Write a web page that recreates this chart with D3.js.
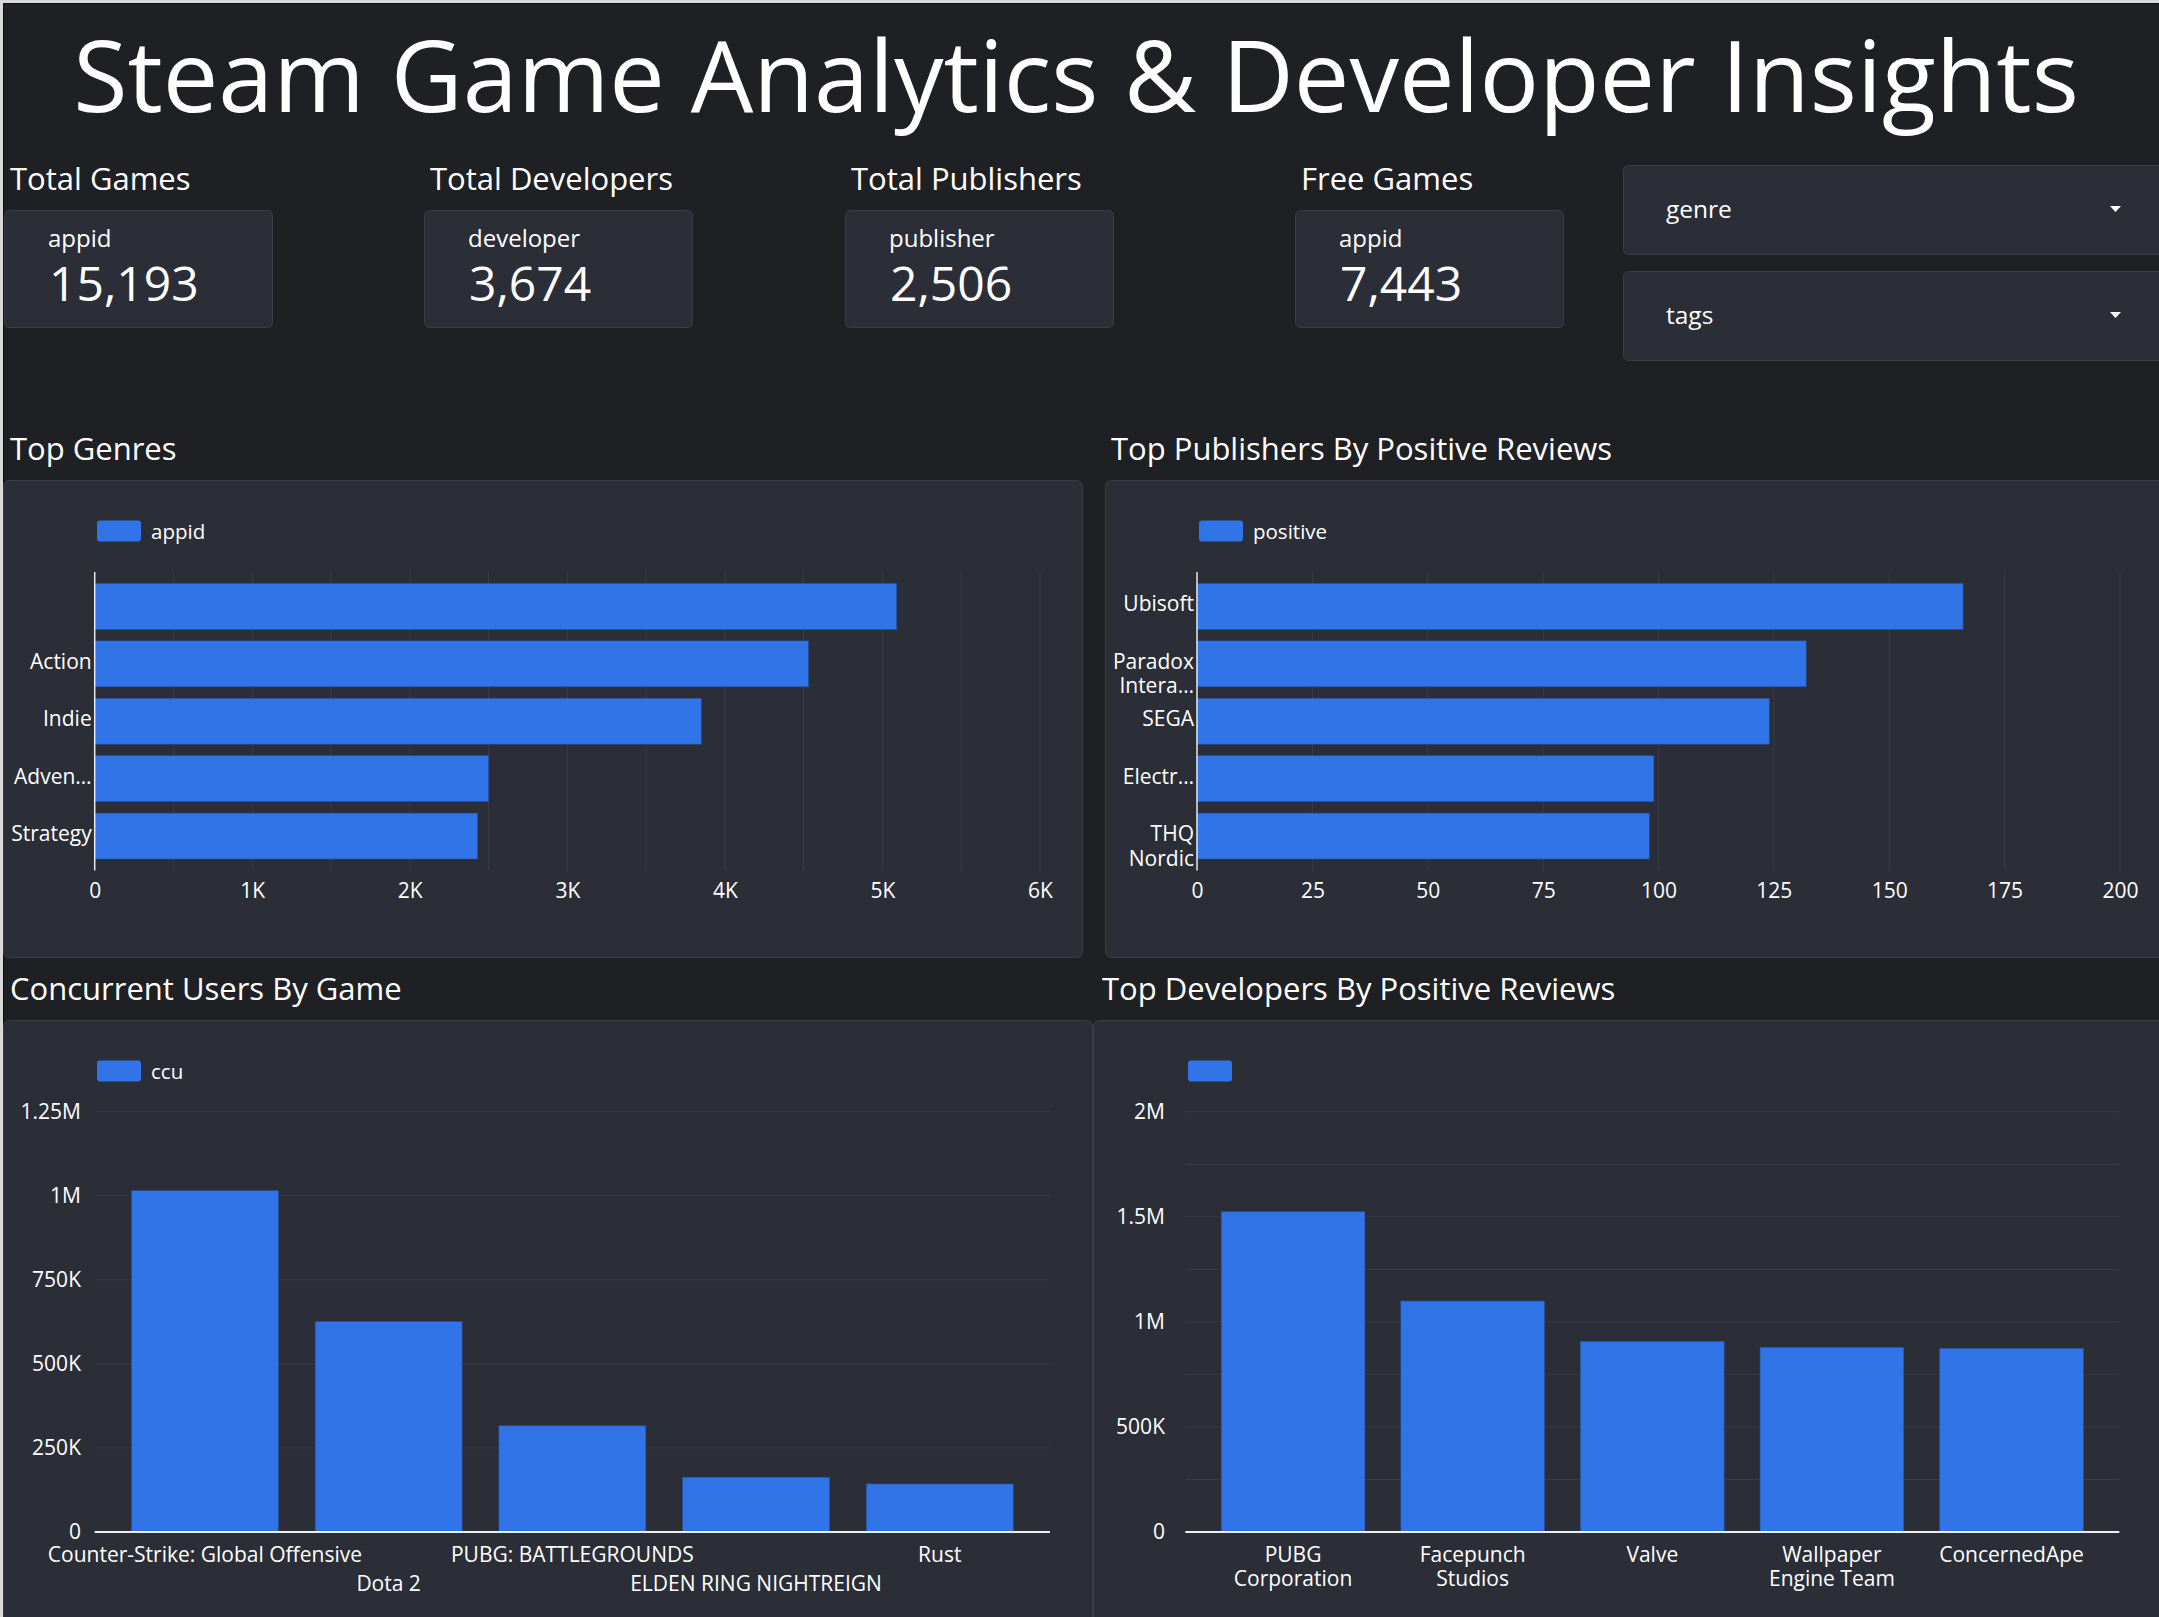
<!DOCTYPE html>
<html>
<head>
<meta charset="utf-8">
<script src="https://cdn.jsdelivr.net/npm/d3@7"></script>
<style>
  html, body { margin: 0; padding: 0; background: #d9d9d9; overflow: hidden; }
  svg { display: block; font-family: "Open Sans", "Noto Sans", sans-serif; }
</style>
</head>
<body>
<svg id="chart" width="2159" height="1617"></svg>
<script>
// ---------------- DATA ----------------
const pageTitle = "Steam Game Analytics & Developer Insights";

const kpiTitles = ["Total Games", "Total Developers", "Total Publishers", "Free Games"];
const kpiFields = ["appid", "developer", "publisher", "appid"];
const kpiValues = [15193, 3674, 2506, 7443];

const filterNames = ["genre", "tags"];

const genres = ["", "Action", "Indie", "Adventure", "Strategy"];
const genreTickLabels = [[""], ["Action"], ["Indie"], ["Adven…"], ["Strategy"]];
const genreCounts = [5090, 4530, 3850, 2500, 2430];
const genreTicks = [0, 1000, 2000, 3000, 4000, 5000, 6000];
const genreGrid = [500, 1000, 1500, 2000, 2500, 3000, 3500, 4000, 4500, 5000, 5500, 6000];

const publishers = ["Ubisoft", "Paradox Interactive", "SEGA", "Electronic Arts", "THQ Nordic"];
const publisherTickLabels = [["Ubisoft"], ["Paradox", "Intera…"], ["SEGA"], ["Electr…"], ["THQ", "Nordic"]];
const publisherPositive = [166, 132, 124, 99, 98];
const publisherTicks = [0, 25, 50, 75, 100, 125, 150, 175, 200];

const games = ["Counter-Strike: Global Offensive", "Dota 2", "PUBG: BATTLEGROUNDS", "ELDEN RING NIGHTREIGN", "Rust"];
const gameCcu = [1015000, 626000, 316000, 163000, 143000];
const ccuTicks = [0, 250000, 500000, 750000, 1000000, 1250000];

const developers = ["PUBG Corporation", "Facepunch Studios", "Valve", "Wallpaper Engine Team", "ConcernedApe"];
const developerTickLabels = [["PUBG", "Corporation"], ["Facepunch", "Studios"], ["Valve"], ["Wallpaper", "Engine Team"], ["ConcernedApe"]];
const developerPositive = [1524000, 1099000, 907000, 879000, 874000];
const developerTicks = [0, 500000, 1000000, 1500000, 2000000];
const developerGrid = [250000, 500000, 750000, 1000000, 1250000, 1500000, 1750000, 2000000];

// ---------------- STYLE ----------------
const BG = "#1f2024", PANEL = "#2b2e36", BORDER = "#3b3e46", GRID = "#3a3d45";
const BAR = "#3174e8", TEXT = "#ffffff";
const FS = 21;

const fmt = v => v === 0 ? "0" : v >= 1e6 ? (+(v / 1e6).toFixed(2)) + "M" : v >= 1e3 ? (+(v / 1e3).toFixed(2)) + "K" : String(v);

const svg = d3.select("#chart");

// page frame
svg.append("rect").attr("x", 3).attr("y", 3).attr("width", 2200).attr("height", 1700).attr("fill", "#111");
svg.append("rect").attr("x", 4).attr("y", 4).attr("width", 2200).attr("height", 1700).attr("fill", BG);

// title
svg.append("text").attr("x", 1076).attr("y", 112).attr("text-anchor", "middle")
  .attr("fill", TEXT).attr("font-size", 99).text(pageTitle);

// KPI cards
const kpiX = [4, 424, 845, 1295];
kpiTitles.forEach((t, i) => {
  const x = kpiX[i];
  svg.append("text").attr("x", x + 6).attr("y", 190).attr("fill", TEXT).attr("font-size", 31).text(t);
  svg.append("rect").attr("x", x + 0.5).attr("y", 210.5).attr("width", 268).attr("height", 117).attr("rx", 5)
    .attr("fill", PANEL).attr("stroke", BORDER);
  svg.append("text").attr("x", x + 44).attr("y", 247).attr("fill", TEXT).attr("font-size", 24).text(kpiFields[i]);
  svg.append("text").attr("x", x + 45).attr("y", 301).attr("fill", TEXT).attr("font-size", 48).text(d3.format(",")(kpiValues[i]));
});

// filter controls
const filterY = [165, 271];
filterNames.forEach((n, i) => {
  const y = filterY[i];
  svg.append("rect").attr("x", 1623.5).attr("y", y + 0.5).attr("width", 600).attr("height", 89).attr("rx", 5)
    .attr("fill", PANEL).attr("stroke", BORDER);
  svg.append("text").attr("x", 1666).attr("y", y + 53).attr("fill", TEXT).attr("font-size", 24.5).text(n);
  svg.append("path").attr("d", `M${2110},${y + 41} L${2121},${y + 41} L${2115.5},${y + 47} Z`).attr("fill", TEXT);
});

// section titles & panels
const sections = [
  { t: "Top Genres", x: 10, y: 460, px: 3.5, py: 480.5, pw: 1079, ph: 477 },
  { t: "Top Publishers By Positive Reviews", x: 1111, y: 460, px: 1105.5, py: 480.5, pw: 1100, ph: 477 },
  { t: "Concurrent Users By Game", x: 10, y: 1000, px: 3.5, py: 1020.5, pw: 1089, ph: 700 },
  { t: "Top Developers By Positive Reviews", x: 1102, y: 1000, px: 1093.5, py: 1020.5, pw: 1100, ph: 700 }
];
sections.forEach(s => {
  svg.append("rect").attr("x", s.px).attr("y", s.py).attr("width", s.pw).attr("height", s.ph).attr("rx", 6)
    .attr("fill", PANEL).attr("stroke", BORDER);
  svg.append("text").attr("x", s.x).attr("y", s.y).attr("fill", TEXT).attr("font-size", 31).text(s.t);
});

function legend(x, y, label) {
  svg.append("rect").attr("x", x).attr("y", y).attr("width", 44).attr("height", 21).attr("rx", 3).attr("fill", BAR);
  if (label) svg.append("text").attr("x", x + 54).attr("y", y + 10).attr("dominant-baseline", "central")
    .attr("fill", TEXT).attr("font-size", 20.5).text(label);
}

// ---------- horizontal bar chart ----------
function hbar(cfg) {
  const g = svg.append("g");
  const x = d3.scaleLinear().domain(cfg.domain).range([cfg.x0, cfg.x1]);
  const y = d3.scaleBand().domain(cfg.cats).range([572, 870.5]).paddingInner(0.2).paddingOuter(0.2);
  g.selectAll("line.grid").data(cfg.grid).join("line")
    .attr("x1", d => x(d)).attr("x2", d => x(d)).attr("y1", 572).attr("y2", 870.5)
    .attr("stroke", GRID).attr("stroke-width", 1);
  g.selectAll("rect.bar").data(cfg.values).join("rect")
    .attr("x", x(0)).attr("y", (d, i) => y(cfg.cats[i]))
    .attr("width", d => x(d) - x(0)).attr("height", y.bandwidth())
    .attr("fill", BAR).attr("stroke", "#25509e").attr("stroke-width", 0.6);
  g.append("line").attr("x1", x(0)).attr("x2", x(0)).attr("y1", 572).attr("y2", 870.5)
    .attr("stroke", "#e8e8e8").attr("stroke-width", 1.5);
  const ax = g.append("g").attr("transform", "translate(0,876)")
    .call(d3.axisBottom(x).tickValues(cfg.ticks).tickFormat(fmt).tickSize(0).tickPadding(0));
  ax.select(".domain").remove();
  ax.selectAll("text").attr("fill", TEXT).attr("font-size", FS).attr("font-family", "Open Sans")
    .attr("dy", "0.5em").attr("y", 11);
  cfg.cats.forEach((c, i) => {
    const lines = cfg.labels[i];
    const cy = y(c) + y.bandwidth() / 2 - 3;
    lines.forEach((ln, j) => {
      g.append("text").attr("x", x(0) - 3).attr("y", cy + j * 24.5).attr("text-anchor", "end")
        .attr("dominant-baseline", "central").attr("fill", TEXT).attr("font-size", FS).text(ln);
    });
  });
}

hbar({ cats: genres, labels: genreTickLabels, values: genreCounts, domain: [0, 6000], x0: 94.7, x1: 1040,
  ticks: genreTicks, grid: genreGrid });
legend(97, 520.5, "appid");

hbar({ cats: publishers, labels: publisherTickLabels, values: publisherPositive, domain: [0, 200], x0: 1197, x1: 2120,
  ticks: publisherTicks, grid: publisherTicks.slice(1) });
legend(1199, 520.5, "positive");

// ---------- vertical bar chart ----------
function vbar(cfg) {
  const g = svg.append("g");
  const x = d3.scaleBand().domain(cfg.cats).range([cfg.x0, cfg.x1]).paddingInner(0.2).paddingOuter(0.2);
  const y = d3.scaleLinear().domain(cfg.domain).range([1532, 1111.7]);
  g.selectAll("line.grid").data(cfg.grid).join("line")
    .attr("x1", cfg.x0).attr("x2", cfg.x1).attr("y1", d => y(d)).attr("y2", d => y(d))
    .attr("stroke", GRID).attr("stroke-width", 1);
  g.selectAll("rect.bar").data(cfg.values).join("rect")
    .attr("x", (d, i) => x(cfg.cats[i])).attr("y", d => y(d))
    .attr("width", x.bandwidth()).attr("height", d => y(0) - y(d))
    .attr("fill", BAR).attr("stroke", "#25509e").attr("stroke-width", 0.6);
  g.append("line").attr("x1", cfg.x0).attr("x2", cfg.x1).attr("y1", y(0)).attr("y2", y(0))
    .attr("stroke", "#f0f0f0").attr("stroke-width", 2);
  const ay = g.append("g").attr("transform", `translate(${cfg.labelX},0)`)
    .call(d3.axisLeft(y).tickValues(cfg.ticks).tickFormat(fmt).tickSize(0).tickPadding(0));
  ay.select(".domain").remove();
  ay.selectAll("text").attr("fill", TEXT).attr("font-size", FS).attr("font-family", "Open Sans");
  cfg.cats.forEach((c, i) => {
    const cx = x(c) + x.bandwidth() / 2;
    cfg.labels[i].forEach((ln, j) => {
      const row = cfg.alternate ? (i % 2) * 28.5 : j * 24.3;
      g.append("text").attr("x", cx).attr("y", 1554 + row).attr("text-anchor", "middle")
        .attr("dominant-baseline", "central").attr("fill", TEXT).attr("font-size", FS).text(ln);
    });
  });
}

vbar({ cats: games, labels: games.map(d => [d]), values: gameCcu, domain: [0, 1250000], x0: 94.7, x1: 1050,
  ticks: ccuTicks, grid: ccuTicks.slice(1), labelX: 81, alternate: true });
legend(97, 1060.5, "ccu");

vbar({ cats: developers, labels: developerTickLabels, values: developerPositive, domain: [0, 2000000], x0: 1185.3, x1: 2119.3,
  ticks: developerTicks, grid: developerGrid, labelX: 1165, alternate: false });
legend(1188, 1060.5, "");
</script>
</body>
</html>
